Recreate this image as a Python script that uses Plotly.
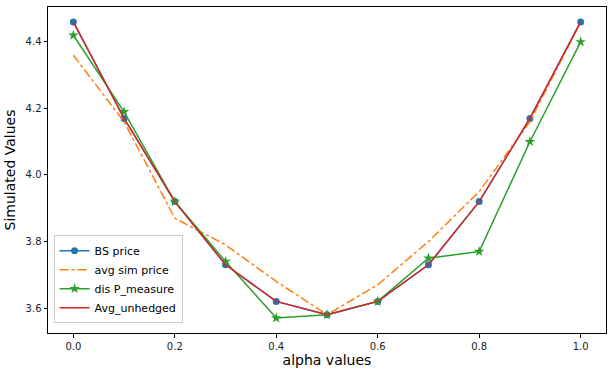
import plotly.graph_objects as go

alpha = [0.0, 0.1, 0.2, 0.3, 0.4, 0.5, 0.6, 0.7, 0.8, 0.9, 1.0]
bs_price = [4.46, 4.17, 3.92, 3.73, 3.62, 3.58, 3.62, 3.73, 3.92, 4.17, 4.46]
avg_sim_price = [4.36, 4.16, 3.87, 3.79, 3.68, 3.58, 3.67, 3.80, 3.95, 4.16, 4.46]
dis_p_measure = [4.42, 4.19, 3.92, 3.74, 3.57, 3.58, 3.62, 3.75, 3.77, 4.10, 4.40]
avg_unhedged = [4.46, 4.17, 3.92, 3.73, 3.62, 3.58, 3.62, 3.73, 3.92, 4.17, 4.46]

fig = go.Figure()
fig.add_trace(go.Scatter(
    x=alpha, y=bs_price, name="BS price", mode="lines+markers",
    line=dict(color="#1f77b4", width=1.5),
    marker=dict(symbol="circle", size=7, color="#1f77b4"),
))
fig.add_trace(go.Scatter(
    x=alpha, y=avg_sim_price, name="avg sim price", mode="lines",
    line=dict(color="#ff7f0e", width=1.5, dash="dashdot"),
))
fig.add_trace(go.Scatter(
    x=alpha, y=dis_p_measure, name="dis P_measure", mode="lines+markers",
    line=dict(color="#2ca02c", width=1.5),
    marker=dict(symbol="star", size=8, color="#2ca02c"),
))
fig.add_trace(go.Scatter(
    x=alpha, y=avg_unhedged, name="Avg_unhedged", mode="lines",
    line=dict(color="#d62728", width=1.5),
))

axis_common = dict(
    showgrid=False, zeroline=False, showline=True, mirror=True,
    linecolor="black", linewidth=1, ticks="outside", ticklen=3.5,
    tickcolor="black", tickfont=dict(size=10, color="#222"),
)

fig.update_layout(
    width=613, height=375,
    margin=dict(l=48, r=7, t=7, b=42),
    paper_bgcolor="white", plot_bgcolor="white",
    font=dict(family="DejaVu Sans", color="black"),
    xaxis=dict(
        range=[-0.05, 1.05], tickvals=[0.0, 0.2, 0.4, 0.6, 0.8, 1.0],
        ticktext=["0.0", "0.2", "0.4", "0.6", "0.8", "1.0"],
        title=dict(text="alpha values", font=dict(size=14), standoff=4),
        **axis_common,
    ),
    yaxis=dict(
        range=[3.525, 4.505], tickvals=[3.6, 3.8, 4.0, 4.2, 4.4],
        ticktext=["3.6", "3.8", "4.0", "4.2", "4.4"],
        title=dict(text="Simulated Values", font=dict(size=14), standoff=6),
        **axis_common,
    ),
    legend=dict(
        x=0.01, y=0.03, xanchor="left", yanchor="bottom",
        bgcolor="rgba(255,255,255,0.8)", bordercolor="#ccc", borderwidth=1,
        font=dict(size=11), tracegroupgap=0, itemwidth=30,
    ),
)

fig.write_html(
    "out.html",
    config={"displayModeBar": False},
    post_script="document.body.style.margin='0';",
)
